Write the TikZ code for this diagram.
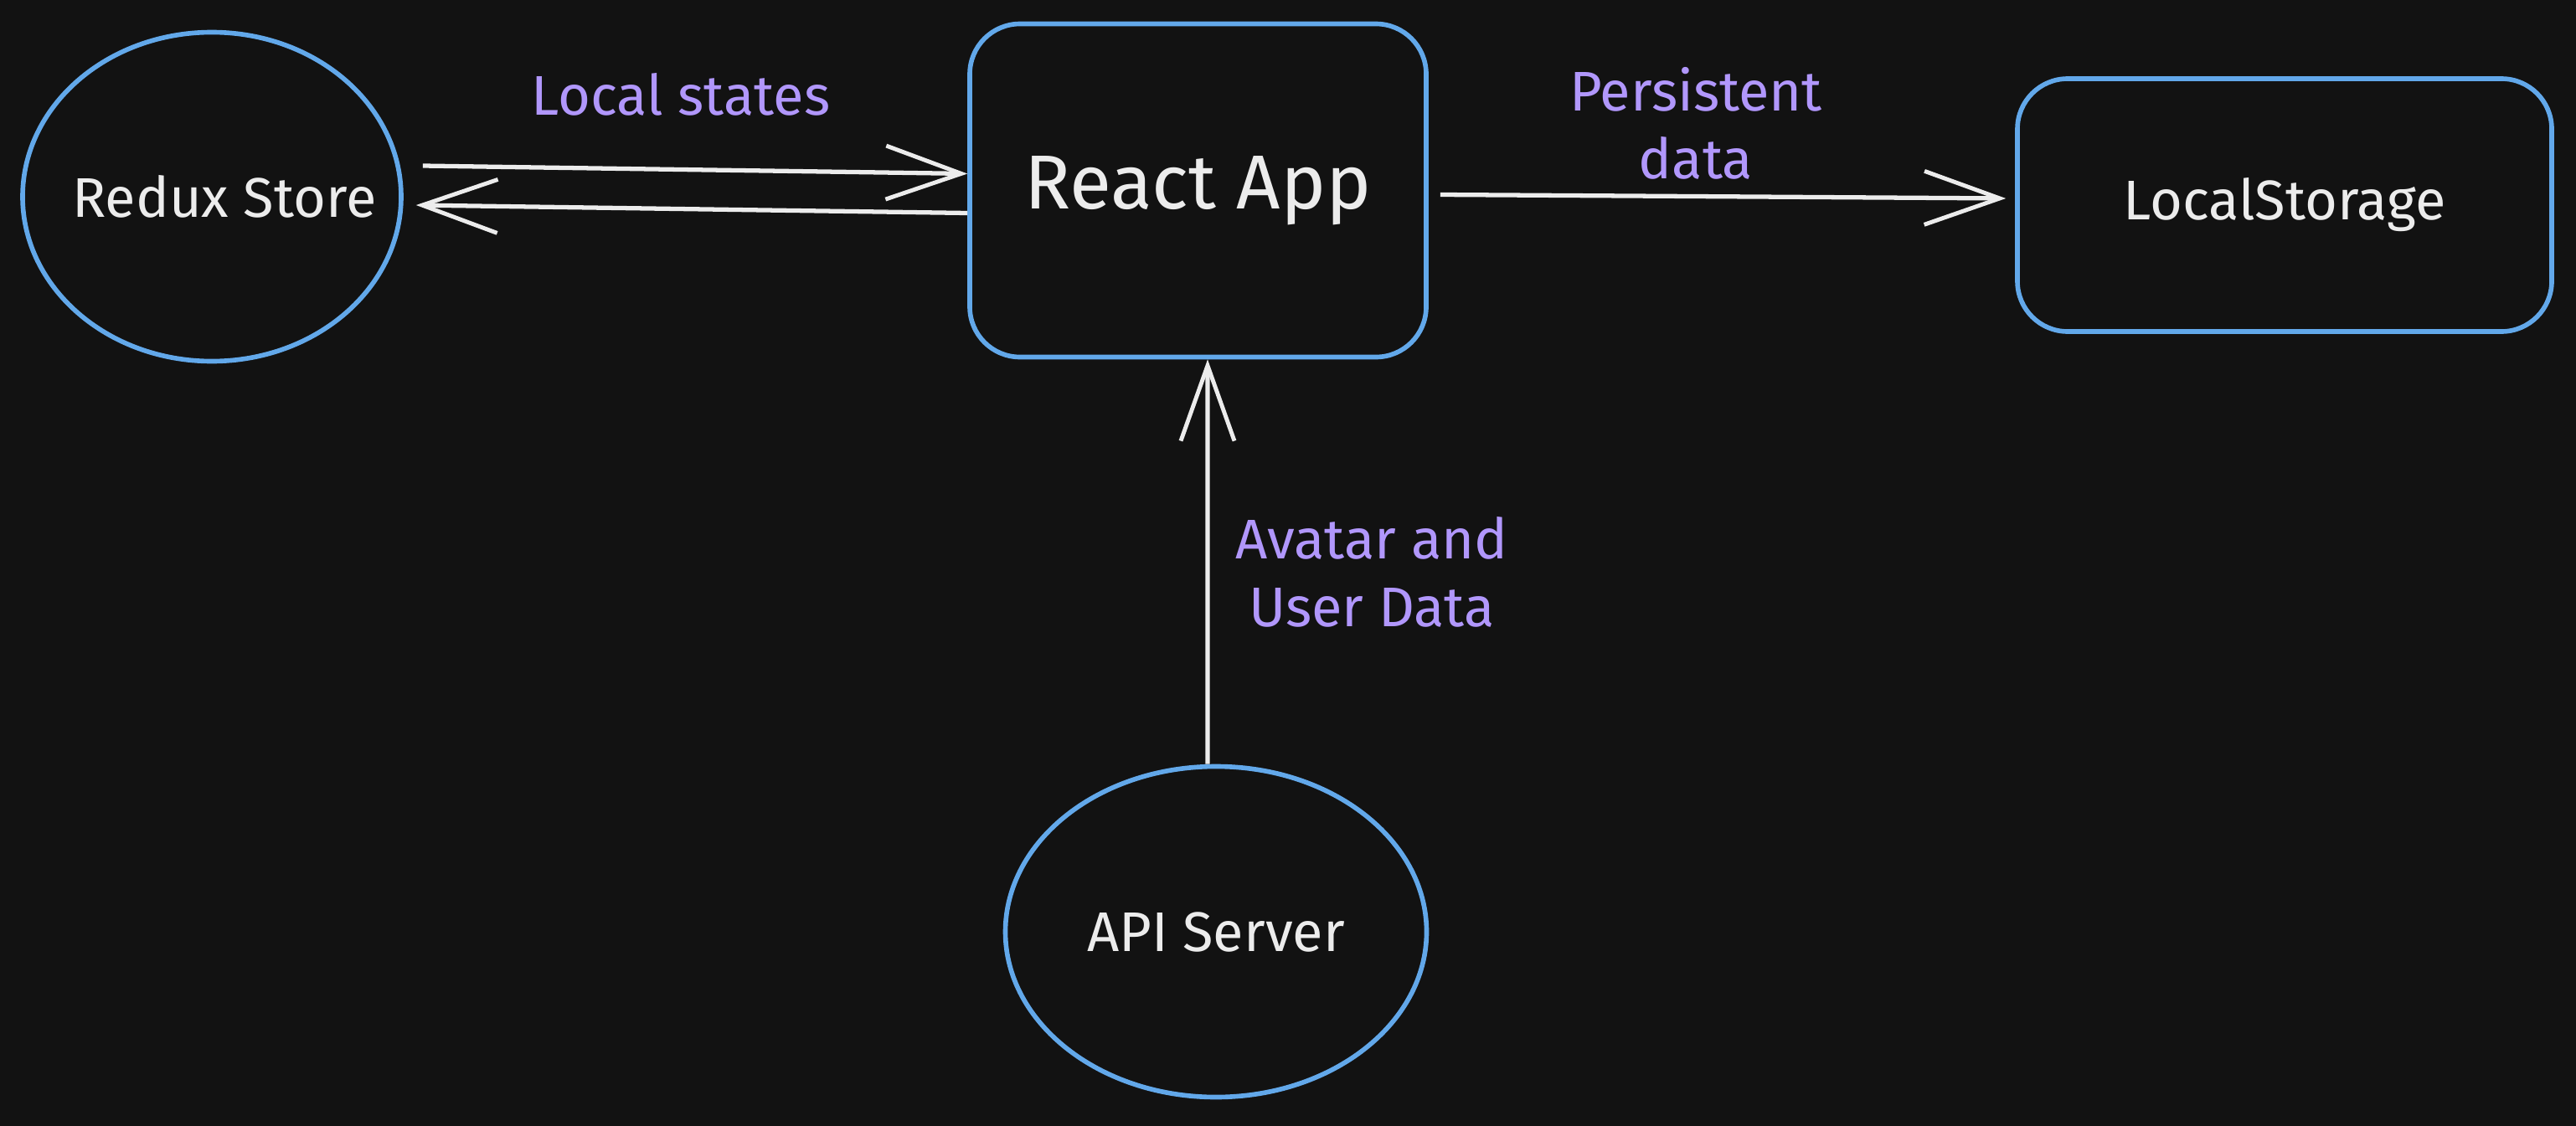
\documentclass[tikz,border=0pt]{standalone}
\usepackage{fontspec}
\setmainfont{Fira Sans}
\usetikzlibrary{shapes.geometric,arrows.meta}
\definecolor{fondo}{HTML}{121212}
\definecolor{azul}{HTML}{62A8EA}
\definecolor{tinta}{HTML}{ECECEC}
\definecolor{lila}{HTML}{B197FC}
\begin{document}
\begin{tikzpicture}[>={Straight Barb[length=9mm,width=6.4mm,line width=1.4pt]},
    caja/.style={draw=azul, line width=1.6pt, rounded corners=0.6cm, text=tinta, font=\fontsize{19}{23}\selectfont},
    elipse/.style={ellipse, draw=azul, line width=1.6pt, inner sep=0pt, text=tinta, font=\fontsize{19}{23}\selectfont},
    flecha/.style={tinta, line width=1.5pt, ->},
    etiq/.style={text=lila, align=center, font=\fontsize{19}{23}\selectfont}]
      \def\ancho{30.76}
      \def\alto{13.45}

      % Fondo
      \fill[fondo] (0,0) rectangle (\ancho,-\alto);
      \useasboundingbox (0,0) rectangle (\ancho,-\alto);

      % Nodos
      \node[elipse, minimum width=4.52cm, minimum height=3.93cm] (redux) at (2.53,-2.35) {\makebox[0pt]{\hspace{0.3cm}Redux Store}};
      \node[caja, minimum width=5.45cm, minimum height=3.98cm, font=\fontsize{26}{30}\selectfont] (react) at (14.305,-2.275) {React App};
      \node[caja, minimum width=6.38cm, minimum height=3.02cm] (local) at (27.28,-2.45) {LocalStorage};
      \node[elipse, minimum width=5.03cm, minimum height=3.95cm] (api) at (14.52,-11.13) {\makebox[0pt]{API Server}};

      % Flechas
      \draw[flecha] ([xshift=0.23cm,yshift=0.37cm]redux.east) -- ([yshift=0.2cm]react.west);
      \draw[flecha] ([yshift=-0.27cm]react.west) -- ([xshift=0.15cm,yshift=-0.1cm]redux.east);
      \draw[flecha] ([xshift=0.14cm,yshift=-0.05cm]react.east) -- ([xshift=-0.11cm,yshift=0.08cm]local.west);
      \draw[flecha] ([xshift=-0.1cm]api.north) -- ([xshift=0.115cm]react.south);

      % Etiquetas
      \node[etiq] (lestados) at (8.13,-1.13) {Local states};
      \node[etiq] (lpersist) at (20.25,-1.47) {Persistent\\data};
      \node[etiq] (lavatar) at (16.38,-6.83) {Avatar and\\User Data};
\end{tikzpicture}
\end{document}
